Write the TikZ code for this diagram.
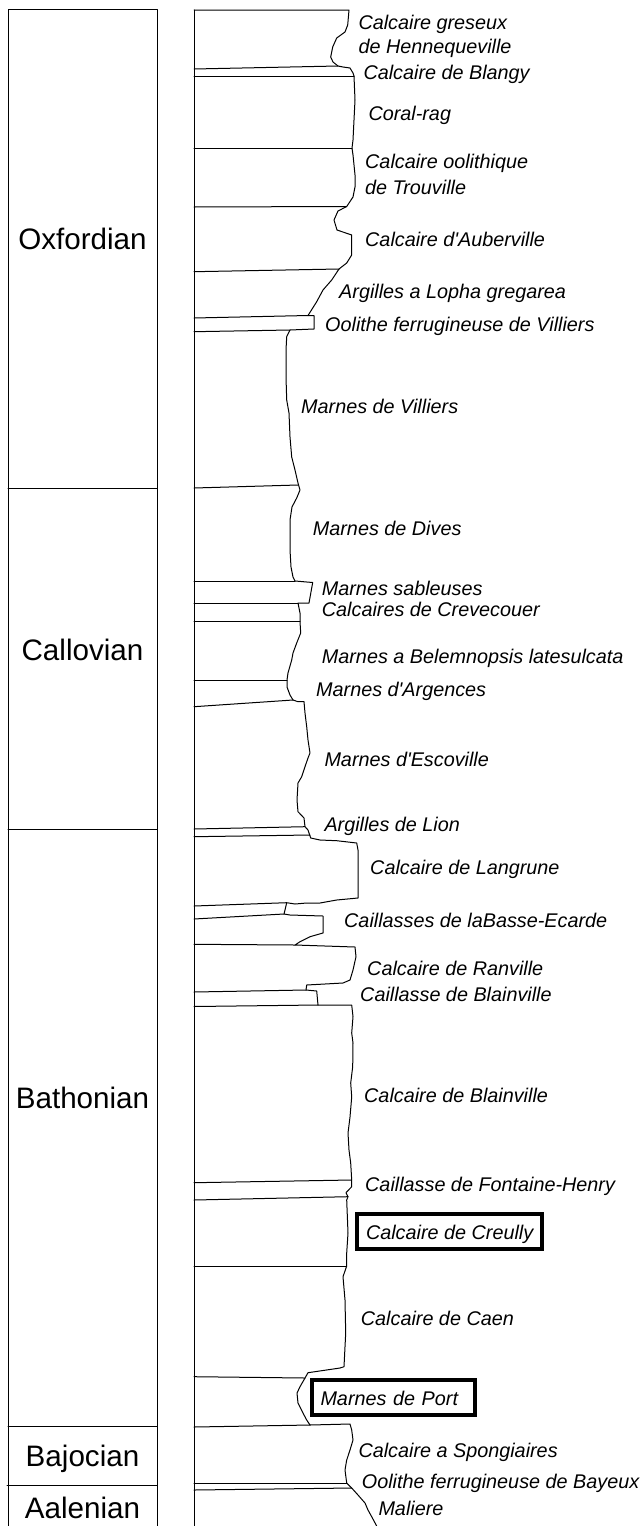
\documentclass[tikz,border=0pt]{standalone}
\usepackage{fontspec}
\newfontfamily\labfont{Liberation Sans}
\begin{document}
\begin{tikzpicture}[x=1pt,y=-1pt,
  thin line/.style={line width=1pt,line join=round,line cap=round},
  lab/.style={anchor=base west,inner sep=0pt,font=\labfont\itshape\fontsize{19.8}{22}\selectfont},
  stage/.style={anchor=base,inner sep=0pt,font=\labfont\fontsize{29.6}{32}\selectfont},
  hbox/.style={draw,line width=4pt,anchor=base west,inner xsep=9pt,inner ysep=5pt,
    text height=20pt,text depth=4.7pt,
    font=\labfont\itshape\fontsize{19.8}{22}\selectfont}]
\useasboundingbox (0,0) rectangle (644,1526);
% stage column
\draw[thin line] (8,1526) -- (8,9.5) -- (157,9.5) -- (157,1526);
\draw[thin line] (8,488) -- (157,488);
\draw[thin line] (8,829) -- (157,829);
\draw[thin line] (8,1426) -- (157,1426);
\draw[thin line] (7,1485) -- (157,1485);
\node[stage] (oxf) at (82.5,249.3) {Oxfordian};
\node[stage] (cal) at (82.5,660) {Callovian};
\node[stage] (bat) at (82.5,1108) {Bathonian};
\node[stage] (baj) at (82.5,1466.7) {Bajocian};
\node[stage] (aal) at (82.5,1518.3) {Aalenian};
% lithological column
\draw[thin line] (194,10) -- (194,1526);
\draw[thin line] (194,10) -- (349,10) -- (347.7,25) -- (345,32) -- (336.7,38) -- (332.7,47) -- (330.7,57) -- (333,62) -- (338,66) -- (343,67) -- (350,68) -- (353,73) -- (354,76) -- (355,100) -- (354,120) -- (353,140) -- (352,148) -- (353,155) -- (355,175) -- (355,187) -- (353,197) -- (346.7,206.5) -- (338,211) -- (334,220) -- (337,230) -- (351.7,235) -- (351.7,255) -- (346.7,263) -- (339,269) -- (331.7,280) -- (323,290) -- (316.7,301.7) -- (308,315.5) -- (314,315.5) -- (314,329) -- (290,330)
  -- (286.7,336.7) -- (286,350) -- (286,377) -- (286.7,400) -- (289,413) -- (290,437) -- (291.7,457) -- (295,470) -- (298,483) -- (300,490) -- (296.7,498) -- (292,507) -- (290,520) -- (290,550) -- (291,567) -- (293,577) -- (295,581) -- (312.7,582.5) -- (309,603) -- (298,603) -- (300,613) -- (300,621.7) -- (300.7,633) -- (296.7,643) -- (293,653) -- (291.7,660) -- (288,673) -- (287,680) -- (287,687) -- (290,695) -- (293,700) -- (298,701.7) -- (304,701.7) -- (305,713) -- (306.7,726.7) -- (308,740) -- (310,753) -- (308,758) -- (305,766.7) -- (301.7,776.7) -- (298,783) -- (297,800) -- (298,811.7) -- (304,818) -- (305,826.7) -- (308,830) -- (310.7,838) -- (320,840) -- (336.7,840.7) -- (356.7,843) -- (358,850) -- (358,898) -- (336.7,900) -- (320,903) -- (306.7,903) -- (295,904) -- (286.7,902.7) -- (285,910) -- (284,914) -- (290,915) -- (323,916) -- (323,933) -- (310,936.7) -- (300,941.7) -- (295,945) -- (355,947) -- (356,956.7) -- (353,970) -- (350,980) -- (343,983) -- (306.7,985) -- (306,990) -- (316.7,991) -- (318,1005) -- (351.7,1005)
  -- (353,1016.7) -- (351.7,1033) -- (353,1043) -- (352.7,1066.7) -- (350.7,1083) -- (351.7,1097) -- (350,1117) -- (348,1133) -- (349,1150) -- (350.7,1163) -- (351.7,1180) -- (351.7,1186.7) -- (346,1192.7) -- (348,1196.7) -- (346.7,1200) -- (348,1233) -- (346.7,1253) -- (346.7,1266) -- (343,1276.7) -- (345,1300) -- (345.7,1333) -- (344,1366.7) -- (340,1368) -- (308,1372.7) -- (305,1378) -- (300,1386.7) -- (297,1393) -- (298,1403) -- (303,1413) -- (306.7,1420) -- (310,1425) -- (350,1424) -- (351.7,1430) -- (353,1440) -- (350,1450) -- (346.7,1460) -- (345,1470) -- (346.7,1483) -- (351.7,1488) -- (358,1495) -- (365,1503) -- (368,1510) -- (371.7,1516.7) -- (376.7,1526);
% bed boundaries
\foreach \ya/\xb/\yb in {69/338/66, 76/354/76, 148/352/148, 207/346.7/206.5, 271.7/339/269, 318/308/315.5, 331.7/290/330, 488/298/485, 581/295/581, 603/298/603, 621.7/300/621.7, 680/287/680, 706.7/293/700, 829/305/826.7, 836.7/310/835, 906/286.7/902.7, 919/284/914, 944.3/295/945, 992/306/990, 1006.5/318/1005, 1182.7/351.7/1180, 1200/348/1196.7, 1266/346.7/1266, 1376.7/305/1378, 1427/310/1425, 1483/346.7/1483, 1490/351.7/1488}
  \draw[thin line] (194,\ya) -- (\xb,\yb);
% formation labels
\node[lab] (f1a) at (358.3,29.3) {Calcaire greseux};
\node[lab] (f1b) at (358.3,53.3) {de Hennequeville};
\node[lab] (f2) at (363.3,79) {Calcaire de Blangy};
\node[lab] (f3) at (368.3,120) {Coral-rag};
\node[lab] (f4a) at (365,168.3) {Calcaire oolithique};
\node[lab] (f4b) at (365,194.3) {de Trouville};
\node[lab] (f5) at (365,246.7) {Calcaire d'Auberville};
\node[lab] (f6) at (339,298.3) {Argilles a Lopha gregarea};
\node[lab] (f7) at (325,331) {Oolithe ferrugineuse de Villiers};
\node[lab] (f8) at (301,413) {Marnes de Villiers};
\node[lab] (f9) at (312.7,535) {Marnes de Dives};
\node[lab] (f10) at (321.7,595) {Marnes sableuses};
\node[lab] (f11) at (321.7,616.7) {Calcaires de Crevecouer};
\node[lab] (f12) at (321.7,663.3) {Marnes a Belemnopsis latesulcata};
\node[lab] (f13) at (316,696.7) {Marnes d'Argences};
\node[lab] (f14) at (324.3,766) {Marnes d'Escoville};
\node[lab] (f15) at (324.3,831.7) {Argilles de Lion};
\node[lab] (f16) at (370,874) {Calcaire de Langrune};
\node[lab] (f17) at (344,927) {Caillasses de laBasse-Ecarde};
\node[lab] (f18) at (367,975) {Calcaire de Ranville};
\node[lab] (f19) at (360,1001) {Caillasse de Blainville};
\node[lab] (f20) at (364,1102) {Calcaire de Blainville};
\node[lab] (f21) at (365,1191.7) {Caillasse de Fontaine-Henry};
\node[hbox] (f22) at (355,1239) {Calcaire de Creully};
\node[lab] (f23) at (360.7,1325.7) {Calcaire de Caen};
\node[hbox,inner xsep=8.5pt,minimum width=163pt,align=left,text width=146pt] (f24) at (310,1405) {Marnes de Port};
\node[lab] (f25) at (358.3,1457.7) {Calcaire a Spongiaires};
\node[lab] (f26) at (361.7,1488.3) {Oolithe ferrugineuse de Bayeux};
\node[lab] (f27) at (378.3,1515) {Maliere};
\end{tikzpicture}
\end{document}
